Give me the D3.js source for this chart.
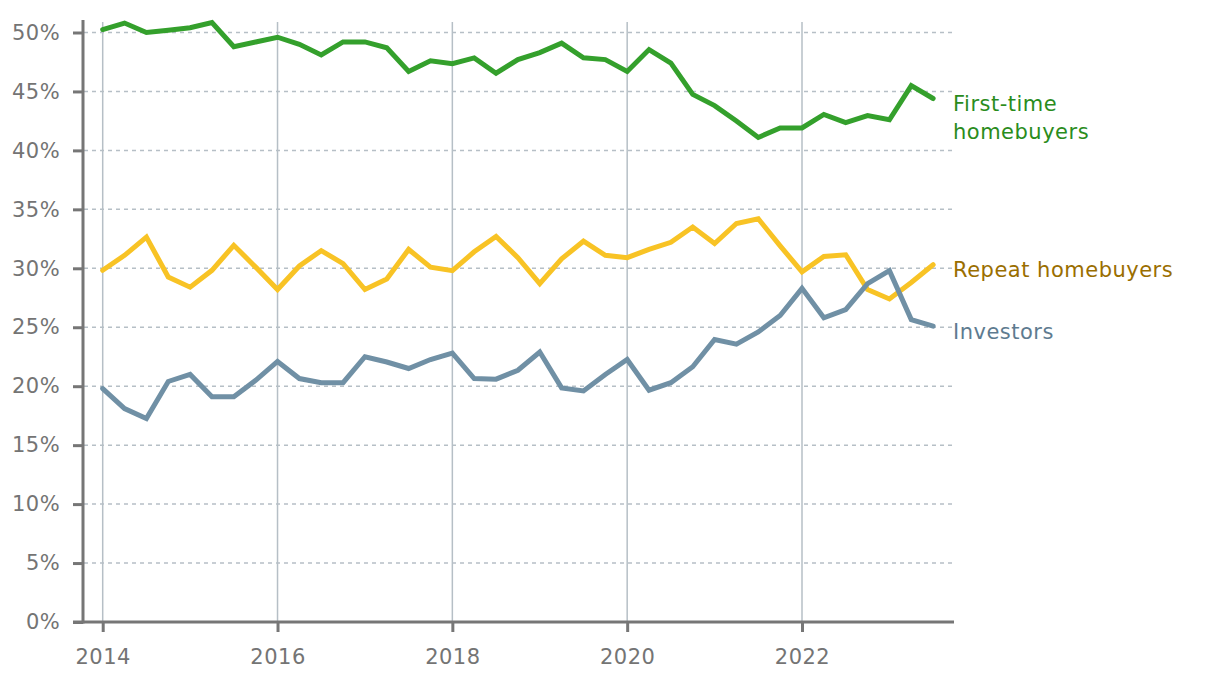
<!DOCTYPE html>
<html>
<head>
<meta charset="utf-8">
<script src="https://cdn.jsdelivr.net/npm/d3@7"></script>
<style>
  html, body { margin: 0; padding: 0; background: #fff; }
  svg text { font-family: "DejaVu Sans", sans-serif; }
</style>
</head>
<body>
<svg id="chart" width="1220" height="682"></svg>
<script>
// Quarterly dates (year fraction), 2014Q1 .. 2023Q3
const quarters = d3.range(0, 39).map(i => 2014 + i * 0.25);

const firstTime = [50.25, 50.8, 50.0, 50.2, 50.4, 50.85, 48.8, 49.2, 49.6, 49.0, 48.1, 49.2, 49.2, 48.7,
  46.7, 47.6, 47.35, 47.85, 46.55, 47.7, 48.3, 49.1, 47.85, 47.7, 46.7, 48.55, 47.4, 44.75,
  43.8, 42.5, 41.1, 41.9, 41.9, 43.05, 42.35, 42.95, 42.6, 45.5, 44.4];

const repeat = [29.83, 31.1, 32.65, 29.26, 28.4, 29.83, 31.95, 30.1, 28.2, 30.2, 31.5, 30.4, 28.2, 29.1,
  31.6, 30.1, 29.8, 31.4, 32.7, 30.9, 28.7, 30.8, 32.3, 31.1, 30.9, 31.6, 32.2, 33.5,
  32.1, 33.8, 34.2, 31.9, 29.7, 31.0, 31.15, 28.2, 27.4, 28.8, 30.3];

const investors = [19.8, 18.1, 17.26, 20.4, 21.0, 19.1, 19.1, 20.5, 22.1, 20.65, 20.3, 20.3, 22.5, 22.05,
  21.5, 22.26, 22.8, 20.65, 20.6, 21.35, 22.9, 19.86, 19.6, 21.0, 22.26, 19.66, 20.3, 21.65,
  23.96, 23.56, 24.6, 26.0, 28.3, 25.8, 26.5, 28.7, 29.8, 25.65, 25.1];

const yTicks = [0, 5, 10, 15, 20, 25, 30, 35, 40, 45, 50];
const xTicks = [2014, 2016, 2018, 2020, 2022];

const seriesNames = ["First-time homebuyers", "Repeat homebuyers", "Investors"];
const seriesLabels = [["First-time", "homebuyers"], ["Repeat homebuyers"], ["Investors"]];
const lineColors = ["#34a02c", "#f8c325", "#7090a5"];
const labelColors = ["#2a8c1c", "#9a6e00", "#5e7b90"];

const series = [firstTime, repeat, investors];

const svg = d3.select("#chart");
const x = d3.scaleLinear().domain([2014, 2022]).range([102.7, 802]);
const y = d3.scaleLinear().domain([0, 50]).range([622, 32.5]);

const gridColor = "#b6bfc6";
const axisColor = "#767676";
const tickFont = "'DejaVu Sans', sans-serif";

// horizontal dashed gridlines
svg.append("g").selectAll("line").data(yTicks.filter(d => d > 0)).join("line")
  .attr("x1", 84).attr("x2", 952)
  .attr("y1", d => y(d)).attr("y2", d => y(d))
  .attr("stroke", gridColor).attr("stroke-width", 1.5)
  .attr("stroke-dasharray", "4,4");

// vertical gridlines
svg.append("g").selectAll("line").data(xTicks).join("line")
  .attr("x1", d => x(d)).attr("x2", d => x(d))
  .attr("y1", 22).attr("y2", 622)
  .attr("stroke", gridColor).attr("stroke-width", 1.5);

// Y axis
const yAxis = d3.axisLeft(y).tickValues(yTicks).tickFormat(d => d + "%")
  .tickSize(10).tickPadding(13);
const gy = svg.append("g").attr("transform", "translate(83,0)").call(yAxis);
gy.select(".domain").remove();
gy.selectAll(".tick line").attr("stroke", axisColor).attr("stroke-width", 3);
gy.selectAll(".tick text").attr("fill", "#747474").style("font-size", "21px")
  .style("font-family", tickFont).style("letter-spacing", "0.4px");
svg.append("line").attr("x1", 83).attr("x2", 83).attr("y1", 20).attr("y2", 623.5)
  .attr("stroke", axisColor).attr("stroke-width", 3);

// X axis
const xAxis = d3.axisBottom(x).tickValues(xTicks).tickFormat(d3.format("d"))
  .tickSize(10).tickPadding(17);
const gx = svg.append("g").attr("transform", "translate(0,622)").call(xAxis);
gx.select(".domain").remove();
gx.selectAll(".tick line").attr("stroke", axisColor).attr("stroke-width", 3);
gx.selectAll(".tick text").attr("fill", "#747474").style("font-size", "21px")
  .style("font-family", tickFont).style("letter-spacing", "0.5px");
svg.append("line").attr("x1", 73).attr("x2", 954).attr("y1", 622).attr("y2", 622)
  .attr("stroke", axisColor).attr("stroke-width", 3);

// lines
const line = d3.line().x((d, i) => x(quarters[i])).y(d => y(d));
series.forEach((s, k) => {
  svg.append("path").datum(s)
    .attr("d", line)
    .attr("fill", "none")
    .attr("stroke", lineColors[k])
    .attr("stroke-width", 5)
    .attr("stroke-linejoin", "miter")
    .attr("stroke-linecap", "round");
});

// labels
const labelY = [111, 277, 339];
seriesLabels.forEach((lines, k) => {
  const t = svg.append("text")
    .attr("x", 953).attr("y", labelY[k])
    .attr("fill", labelColors[k])
    .style("font-size", "21px")
    .style("letter-spacing", "0.5px");
  lines.forEach((l, j) => {
    t.append("tspan").attr("x", 953).attr("dy", j === 0 ? 0 : 28).text(l);
  });
});
</script>
</body>
</html>
